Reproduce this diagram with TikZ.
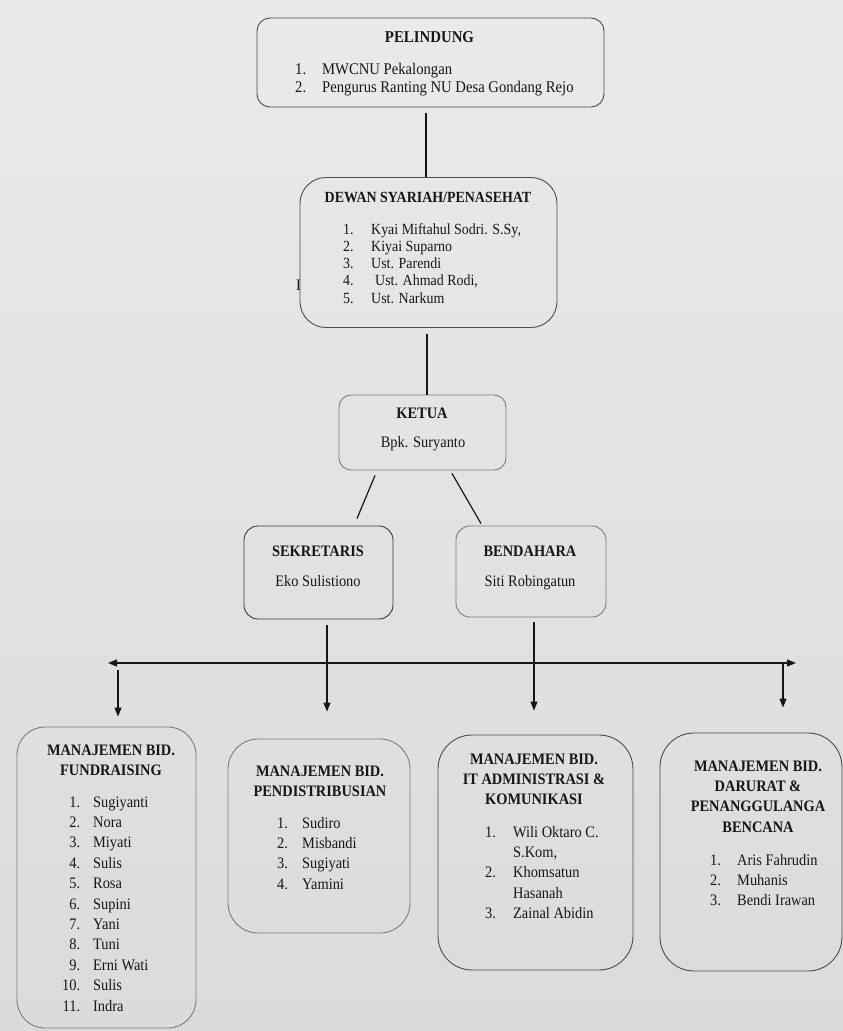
\documentclass[tikz,border=0pt]{standalone}
\usepackage{fontspec}
\setmainfont{Liberation Serif}[FakeStretch=0.9]
\usetikzlibrary{arrows.meta,calc}
\definecolor{bgtop}{RGB}{234,234,234}
\definecolor{bgbot}{RGB}{219,219,219}
\definecolor{ink}{RGB}{22,22,22}
\definecolor{edge}{RGB}{75,75,75}
\definecolor{edgelt}{RGB}{125,125,125}
\newcommand\ttl[1]{\begin{tabular}[t]{@{}c@{}}#1\end{tabular}}
\newcommand\lst[1]{\begin{tabular}[t]{@{}l@{}}#1\end{tabular}}
\newcommand\itm[3]{\makebox[#1pt][l]{#2}#3}
\newcommand\ritm[2]{\makebox[25pt][r]{#1}\hspace{13pt}#2}
\begin{document}
\begin{tikzpicture}[x=1pt,y=-1pt,
  box/.style={draw=edge, line width=0.9pt, rectangle, inner sep=0pt},
  link/.style={draw=ink, line width=1.2pt},
  arr/.style={link, -{Triangle[length=9pt,width=7pt]}},
  txt/.style={inner sep=0pt, anchor=base, text=ink},
  lsttxt/.style={inner sep=0pt, anchor=base west, text=ink},
  fA/.style={font=\fontsize{16.3}{18}\selectfont},
  fB/.style={font=\fontsize{15.5}{17.25}\selectfont},
  fC/.style={font=\fontsize{16}{20.4}\selectfont},
  bA/.style={font=\fontsize{16.5}{18}\selectfont\bfseries},
  bB/.style={font=\fontsize{15.5}{17.25}\selectfont\bfseries},
  bC/.style={font=\fontsize{16}{20.4}\selectfont\bfseries}
]
\useasboundingbox (0,0) rectangle (843,1031);
\shade[top color=bgtop, bottom color=bgbot] (0,0) rectangle (843,1031);

% boxes
\node[box, rounded corners=13pt, minimum width=347pt, minimum height=89pt] (pel) at (430.5,62.5) {};
\node[box, rounded corners=26pt, minimum width=257pt, minimum height=150pt] (dew) at (428.5,252.5) {};
\node[box, draw=edgelt, rounded corners=12pt, minimum width=167pt, minimum height=75pt] (ket) at (422.5,432.5) {};
\node[box, draw=ink!85, rounded corners=14pt, minimum width=149pt, minimum height=93pt] (sek) at (318.5,572.5) {};
\node[box, draw=edgelt, rounded corners=14pt, minimum width=150pt, minimum height=91pt] (ben) at (531,571.5) {};
\node[box, draw=edgelt, rounded corners=28pt, minimum width=179pt, minimum height=301pt] (fund) at (106.5,877.5) {};
\node[box, draw=edgelt, rounded corners=30pt, minimum width=182pt, minimum height=194pt] (pend) at (319,836) {};
\node[box, rounded corners=34pt, minimum width=195pt, minimum height=235pt] (it) at (535.5,852.5) {};
\node[box, rounded corners=34pt, minimum width=182pt, minimum height=238pt] (dar) at (751,852) {};

% texts
\node[txt, bA] (pelT) at (429.5,42) {PELINDUNG};
\node[lsttxt, fA] (pelL) at (295,74) {\lst{\itm{27}{1.}{MWCNU Pekalongan}\\ \itm{27}{2.}{Pengurus Ranting NU Desa Gondang Rejo}}};

\node[txt, bB] (dewT) at (428,202) {DEWAN SYARIAH/PENASEHAT};
\node[lsttxt, fB] (dewL) at (343,234) {\lst{\itm{28}{1.}{Kyai Miftahul Sodri. S.Sy,}\\ \itm{28}{2.}{Kiyai Suparno}\\ \itm{28}{3.}{Ust. Parendi}\\ \itm{28}{4.}{\hspace{4pt}Ust. Ahmad Rodi,}\\ \itm{28}{5.}{Ust. Narkum}}};
\node[txt, fC] (stray) at (298.5,290) {I};

\node[txt, bC] (ketT) at (422,418) {KETUA};
\node[txt, fC] (ketN) at (423,447) {Bpk. Suryanto};

\node[txt, bC] (sekT) at (318,556) {SEKRETARIS};
\node[txt, fC] (sekN) at (318,586) {Eko Sulistiono};
\node[txt, bC] (benT) at (530,556) {BENDAHARA};
\node[txt, fC] (benN) at (530,586) {Siti Robingatun};

\node[txt, bC] (fundT) at (111,755) {\ttl{MANAJEMEN BID.\\ FUNDRAISING}};
\node[lsttxt, fC] (fundL) at (55,807) {\lst{\ritm{1.}{Sugiyanti}\\ \ritm{2.}{Nora}\\ \ritm{3.}{Miyati}\\ \ritm{4.}{Sulis}\\ \ritm{5.}{Rosa}\\ \ritm{6.}{Supini}\\ \ritm{7.}{Yani}\\ \ritm{8.}{Tuni}\\ \ritm{9.}{Erni Wati}\\ \ritm{10.}{Sulis}\\ \ritm{11.}{Indra}}};

\node[txt, bC] (pendT) at (320,776) {\ttl{MANAJEMEN BID.\\ PENDISTRIBUSIAN}};
\node[lsttxt, fC] (pendL) at (277,828) {\lst{\itm{25}{1.}{Sudiro}\\ \itm{25}{2.}{Misbandi}\\ \itm{25}{3.}{Sugiyati}\\ \itm{25}{4.}{Yamini}}};

\node[txt, bC] (itT) at (534,764) {\ttl{MANAJEMEN BID.\\ IT ADMINISTRASI \&\\ KOMUNIKASI}};
\node[lsttxt, fC] (itL) at (485,837) {\lst{\itm{28}{1.}{Wili Oktaro C.}\\ \itm{28}{}{S.Kom,}\\ \itm{28}{2.}{Khomsatun}\\ \itm{28}{}{Hasanah}\\ \itm{28}{3.}{Zainal Abidin}}};

\node[txt, bC] (darT) at (758,771) {\ttl{MANAJEMEN BID.\\ DARURAT \&\\ PENANGGULANGA\\ BENCANA}};
\node[lsttxt, fC] (darL) at (710,865) {\lst{\itm{27}{1.}{Aris Fahrudin}\\ \itm{27}{2.}{Muhanis}\\ \itm{27}{3.}{Bendi Irawan}}};

% connectors
\draw[link, shorten <=6pt] ([xshift=-4.5pt]pel.south) -- ([xshift=-4.5pt]pel.south |- dew.north);
\draw[link, shorten <=6pt] ([xshift=-1.5pt]dew.south) -- ([xshift=-1.5pt]dew.south |- ket.north);
\draw[link] ([xshift=-47.5pt,yshift=-5pt]ket.south) -- ([xshift=38.5pt,yshift=7pt]sek.north);
\draw[link] ([xshift=29.5pt,yshift=-3pt]ket.south) -- ([xshift=-50pt,yshift=2pt]ben.north);

\coordinate (hl) at (108,663);
\coordinate (hr) at (796,663);
\coordinate (fdrop) at (118,670);
\coordinate (ddrop) at (783,663);
\draw[link, {Triangle[length=9pt,width=7pt]}-{Triangle[length=9pt,width=7pt]}] (hl) -- (hr);
\draw[arr, shorten <=6pt, shorten >=27pt] ([xshift=8.5pt]sek.south) -- ([xshift=8.5pt]sek.south |- pend.north);
\draw[arr, shorten <=5pt, shorten >=24pt] ([xshift=3pt]ben.south) -- ([xshift=3pt]ben.south |- it.north);
\draw[arr, shorten >=10pt] (fdrop) -- (fdrop |- fund.north);
\draw[arr, shorten >=25pt] (ddrop) -- (ddrop |- dar.north);
\end{tikzpicture}
\end{document}
